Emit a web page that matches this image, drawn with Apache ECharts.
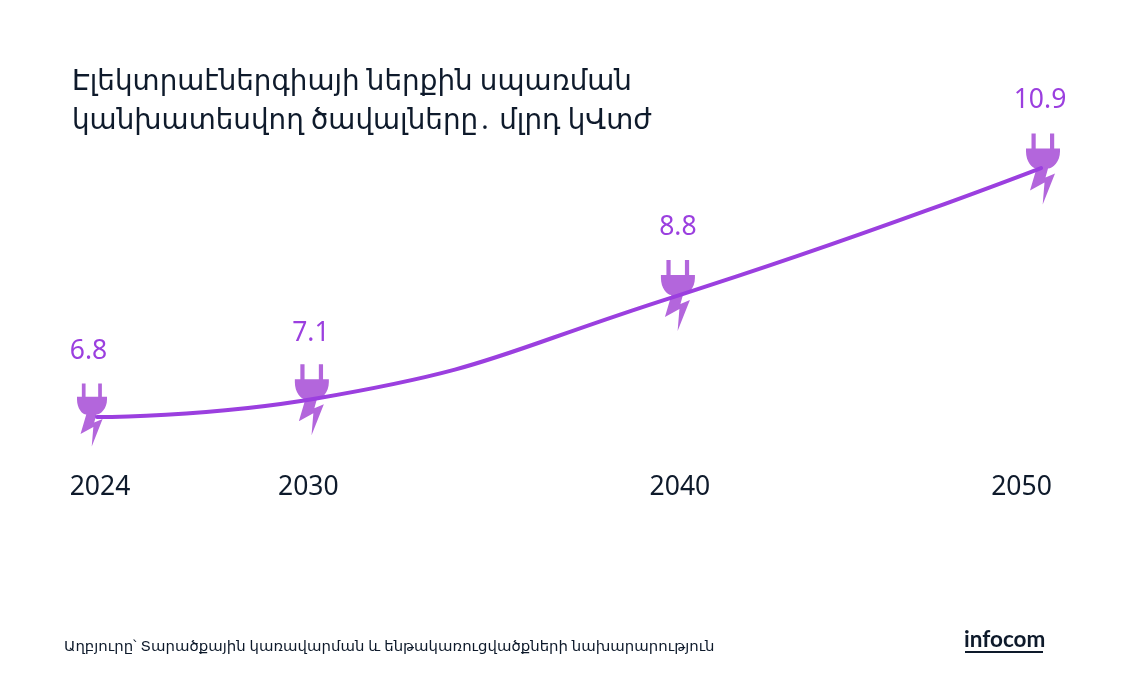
<!DOCTYPE html>
<html>
<head>
<meta charset="utf-8">
<title>infocom</title>
<script src="https://cdn.jsdelivr.net/npm/echarts@6/dist/echarts.min.js"></script>
<style>
html, body { margin: 0; padding: 0; background: #fff; }
#Echarts_Div { width: 1140px; height: 700px; }
</style>
</head>
<body>
<div id="Echarts_Div"></div>
<script>
// chart values
var years = [2024, 2030, 2040, 2050];
var consumption = [6.8, 7.1, 8.8, 10.9];

// per point look of the plug icon: size, offset from the point, value label offset
var plugSizes = [[30, 63], [34, 71], [34, 71], [34, 71]];
var plugOffsets = [[-5, -2], [-3, 1], [0, 0], [2, 1]];
var valueLabelOffsets = [[-3.5, -63], [-1, -66.5], [0, -68.5], [-3, -68.5]];
// the year labels do not sit exactly under their points
var yearLabelStyles = {
    2024: { padding: [0, 0, 0, 6] },
    2030: { padding: [0, 13, 0, 0] },
    2040: { padding: [0, 0, 0, 4] },
    2050: { padding: [0, 39, 0, 0] }
};

var titleText = 'Էլեկտրաէներգիայի ներքին սպառման\nկանխատեսվող ծավալները․ մլրդ կՎտժ';
var sourceText = 'Աղբյուրը՝ Տարածքային կառավարման և ենթակառուցվածքների նախարարություն';

var plugPath = 'path://M5.5,0 L9.7,0 L9.7,15 L24,15 L24,0 L28.2,0 L28.2,15 L34,15 L34,18 ' +
    'C34,28 27,35 22,35 L19.5,44 L29,40 L16.7,71 L18.5,49 L4,57 L10.5,35 C6,35 0,28 0,18 L0,15 L5.5,15 Z';

var textFont = '"Noto Sans", "DejaVu Sans", sans-serif';
var dark = '#0e1a2b';
var purple = '#9b3fdf';

function drawChart() {
    var myChart = echarts.init(document.getElementById('Echarts_Div'));

    var plugData = [];
    for (var i = 0; i < years.length; i++) {
        plugData.push({
            value: [years[i], consumption[i]],
            symbolSize: plugSizes[i],
            symbolOffset: plugOffsets[i],
            label: { offset: valueLabelOffsets[i] }
        });
    }
    var lineData = [];
    for (var j = 0; j < years.length; j++) {
        lineData.push([years[j], consumption[j]]);
    }

    var option = {
        animation: false,
        backgroundColor: '#fff',
        textStyle: { fontFamily: textFont },
        title: {
            text: titleText,
            left: 67,
            top: 57,
            textStyle: {
                fontFamily: textFont,
                fontWeight: 'normal',
                fontSize: 27.8,
                lineHeight: 39.5,
                color: dark
            }
        },
        grid: { left: 97, right: 99, top: 162, bottom: 234.5 },
        xAxis: {
            type: 'value',
            min: 2024,
            max: 2050,
            splitLine: { show: false },
            axisLine: { show: false },
            axisTick: { show: false },
            axisLabel: {
                customValues: years,
                margin: 8,
                formatter: function (value) { return '{y' + value + '|' + value + '}'; },
                rich: {
                    y2024: yearLabelStyles[2024],
                    y2030: yearLabelStyles[2030],
                    y2040: yearLabelStyles[2040],
                    y2050: yearLabelStyles[2050]
                },
                fontFamily: textFont,
                fontSize: 26.5,
                color: dark
            }
        },
        yAxis: { type: 'value', min: 6, max: 11, show: false },
        series: [{
            type: 'scatter',
            z: 2,
            symbol: plugPath,
            itemStyle: { color: '#b366dc', opacity: 1 },
            label: {
                show: true,
                position: 'inside',
                formatter: function (p) { return p.value[1].toFixed(1); },
                fontFamily: textFont,
                fontSize: 26.5,
                color: purple
            },
            data: plugData
        }, {
            type: 'line',
            z: 3,
            smooth: 0.5,
            showSymbol: false,
            lineStyle: { color: purple, width: 4, cap: 'round' },
            data: lineData
        }],
        graphic: [{
            type: 'text',
            left: 64,
            top: 639,
            style: { text: sourceText, font: '14.9px ' + textFont, fill: dark }
        }, {
            type: 'text',
            left: 964,
            top: 628,
            style: { text: 'infocom', font: '700 22.5px Lato, ' + textFont, fill: dark }
        }, {
            type: 'rect',
            shape: { x: 965, y: 651, width: 78, height: 2 },
            style: { fill: dark }
        }]
    };

    option && myChart.setOption(option);
}
window.onload = function () {
    drawChart();
};
</script>
</body>
</html>
